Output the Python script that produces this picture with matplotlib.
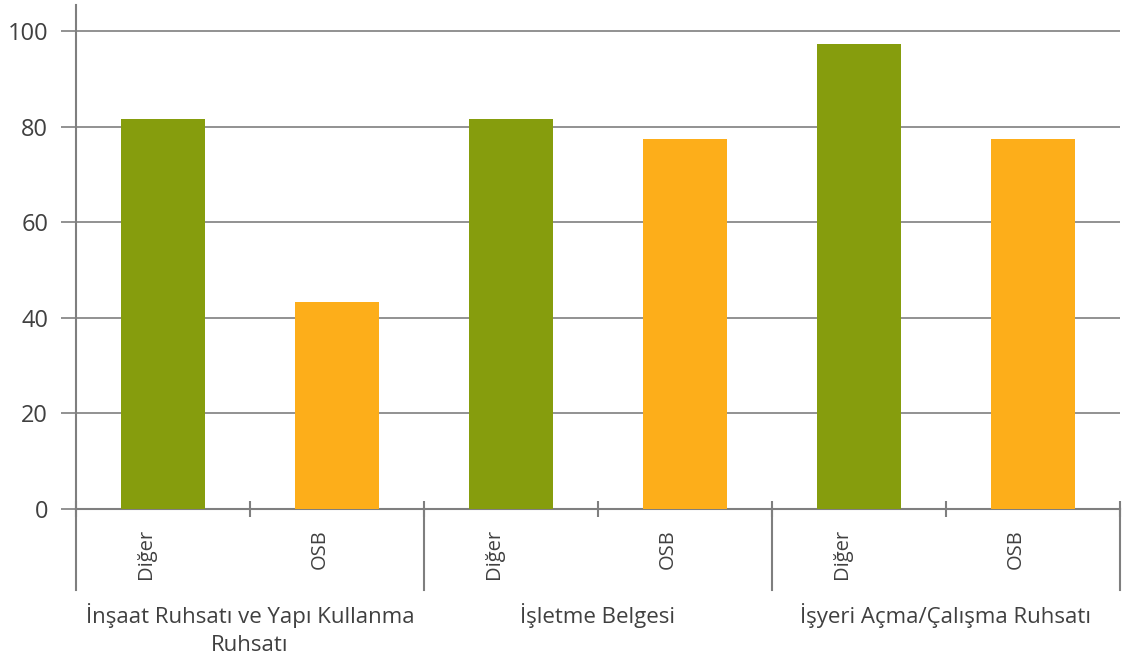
import matplotlib.pyplot as plt
import matplotlib.transforms as mtransforms

plt.rcParams['font.family'] = ['Open Sans', 'DejaVu Sans']

groups = ['İnşaat Ruhsatı ve Yapı Kullanma\nRuhsatı', 'İşletme Belgesi', 'İşyeri Açma/Çalışma Ruhsatı']
subcats = ['Diğer', 'OSB', 'Diğer', 'OSB', 'Diğer', 'OSB']
values = [81.5, 43.3, 81.5, 77.5, 97.2, 77.5]
colors = ['#869D0D', '#FDAE1A', '#869D0D', '#FDAE1A', '#869D0D', '#FDAE1A']

text_col = '#404040'
line_col = '#7f7f7f'

fig = plt.figure(figsize=(11.22, 6.62), dpi=100)
ax = fig.add_axes([76 / 1122, 1 - 509 / 662, (1120 - 76) / 1122, (509 - 5) / 662])

x = list(range(len(values)))
ax.bar(x, values, width=0.48, color=colors, zorder=3)

ax.set_xlim(-0.5, len(values) - 0.5)
ax.set_ylim(0, 100 * 504 / 478)
ax.set_yticks(range(0, 101, 20))
ax.yaxis.grid(True, color=line_col, linewidth=1.2)
ax.set_axisbelow(True)
ax.tick_params(axis='y', length=11, width=1.2, color=line_col, labelsize=17,
               labelcolor=text_col, pad=9)

for s in ['top', 'right']:
    ax.spines[s].set_visible(False)
for s in ['left', 'bottom']:
    ax.spines[s].set_color(line_col)
    ax.spines[s].set_linewidth(1.5)

ax.set_xticks([i + 0.5 for i in range(-1, len(values))])
ax.set_xticklabels([])
ax.tick_params(axis='x', direction='inout', length=12, width=1.5, color=line_col)

trans = mtransforms.blended_transform_factory(ax.transData, ax.transAxes)
ypx = 504  # axes height in pixels
for b in [-0.5, 1.5, 3.5, 5.5]:
    ax.plot([b, b], [0, -81 / ypx], transform=trans, color=line_col,
            linewidth=1.5, clip_on=False)

for i, lab in enumerate(subcats):
    ax.text(i - 0.1, -20 / ypx, lab, transform=trans, rotation=90, ha='center',
            va='top', fontsize=14.5, color=text_col)

for g, lab in enumerate(groups):
    ax.text(2 * g + 0.5, -94 / ypx, lab, transform=trans, ha='center', va='top',
            fontsize=16, color=text_col, linespacing=1.45)

fig.savefig('out.png', dpi=100)
